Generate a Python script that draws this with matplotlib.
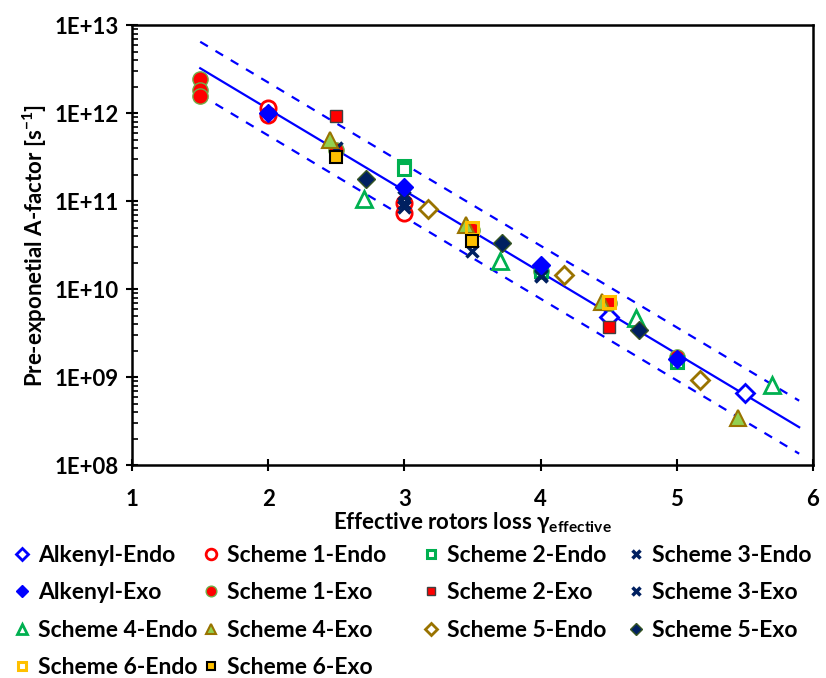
import matplotlib.pyplot as plt
import numpy as np
from matplotlib.ticker import FixedLocator, FuncFormatter, LogLocator, NullFormatter

plt.rcParams['font.family'] = ['Lato', 'DejaVu Sans']
plt.rcParams['font.weight'] = 'bold'
plt.rcParams['mathtext.fontset'] = 'custom'
plt.rcParams['mathtext.rm'] = 'Lato:bold'
plt.rcParams['mathtext.it'] = 'Lato:bold'
plt.rcParams['mathtext.bf'] = 'Lato:bold'

# data (x = effective rotors loss, y = A-factor in 1/s)
alk_endo_x = [4.5, 5.5]
alk_endo_y = [4.8e9, 6.6e8]
alk_exo_x = [2, 3, 4, 5]
alk_exo_y = [1.0e12, 1.45e11, 1.87e10, 1.6e9]
s1_endo_x = [2, 2, 3, 3]
s1_endo_y = [1.14e12, 9.5e11, 9.5e10, 7.3e10]
s1_exo_x = [1.5, 1.5, 1.5, 2.5, 3.5, 4, 4.5, 5]
s1_exo_y = [2.45e12, 1.85e12, 1.55e12, 3.8e11, 4.7e10, 1.6e10, 7.0e9, 1.7e9]
s2_endo_x = [3, 3, 4, 5]
s2_endo_y = [2.5e11, 2.3e11, 1.6e10, 1.5e9]
s2_exo_x = [2.5, 4.5]
s2_exo_y = [9.2e11, 3.7e9]
s3_endo_x = [3, 3, 4]
s3_endo_y = [1.1e11, 8.5e10, 1.45e10]
s3_exo_x = [2.5, 3, 3, 3.5, 4]
s3_exo_y = [4.0e11, 1.2e11, 9.5e10, 2.7e10, 1.4e10]
s4_endo_x = [2.7, 3.7, 4.7, 5.7]
s4_endo_y = [1.05e11, 2.1e10, 4.7e9, 8.1e8]
s4_exo_x = [2.45, 3.45, 4.45, 5.45]
s4_exo_y = [5.0e11, 5.4e10, 7.1e9, 3.4e8]
s5_endo_x = [3.17, 4.17, 5.17]
s5_endo_y = [8.1e10, 1.44e10, 9.3e8]
s5_exo_x = [2.72, 3.72, 4.72]
s5_exo_y = [1.78e11, 3.3e10, 3.4e9]
s6_endo_x = [3.5, 4.5]
s6_endo_y = [4.9e10, 7.1e9]
s6_exo_x = [2.5, 3.5]
s6_exo_y = [3.2e11, 3.5e10]

# log10(A) = fit_a + fit_b * x, band = factor 2
fit_a = 13.90
fit_b = -0.927
band = np.log10(2)
fit_range = [1.5, 5.9]

fig = plt.figure(figsize=(8.26, 6.78), dpi=100)
ax = fig.add_axes([0.16, 0.314, 0.824, 0.649])

xf = np.linspace(fit_range[0], fit_range[1], 50)
yf = 10 ** (fit_a + fit_b * xf)
ax.plot(xf, yf, color='#0000FF', lw=1.6, zorder=1)
ax.plot(xf, yf * 10 ** band, color='#0000FF', lw=1.6, ls=(0, (4, 4)), zorder=1)
ax.plot(xf, yf / 10 ** band, color='#0000FF', lw=1.6, ls=(0, (4, 4)), zorder=1)

h = {}
h['Alkenyl-Endo'] = ax.plot(alk_endo_x, alk_endo_y, 'D', ms=9, mfc='white', mec='#0000FF', mew=2, ls='none')[0]
h['Alkenyl-Exo'] = ax.plot(alk_exo_x, alk_exo_y, 'D', ms=9, mfc='#0000FF', mec='#0000FF', mew=1, ls='none', zorder=5)[0]
h['Scheme 1-Endo'] = ax.plot(s1_endo_x, s1_endo_y, 'o', ms=11, mfc='white', mec='#FF0000', mew=2, ls='none')[0]
h['Scheme 1-Exo'] = ax.plot(s1_exo_x, s1_exo_y, 'o', ms=11, mfc='#FF0000', mec='#70AD47', mew=1, ls='none')[0]
h['Scheme 2-Endo'] = ax.plot(s2_endo_x, s2_endo_y, 's', ms=9, mfc='white', mec='#00B050', mew=2.2, ls='none')[0]
h['Scheme 2-Exo'] = ax.plot(s2_exo_x, s2_exo_y, 's', ms=9, mfc='#FF0000', mec='#404040', mew=1, ls='none')[0]
h['Scheme 3-Endo'] = ax.plot(s3_endo_x, s3_endo_y, 'x', ms=9, mec='#002060', mew=2.5, ls='none')[0]
h['Scheme 3-Exo'] = ax.plot(s3_exo_x, s3_exo_y, 'x', ms=9, mec='#002060', mew=2.5, ls='none')[0]
h['Scheme 4-Endo'] = ax.plot(s4_endo_x, s4_endo_y, '^', ms=11, mfc='white', mec='#00B050', mew=2, ls='none')[0]
h['Scheme 4-Exo'] = ax.plot(s4_exo_x, s4_exo_y, '^', ms=11, mfc='#92D050', mec='#997300', mew=1.5, ls='none')[0]
h['Scheme 5-Endo'] = ax.plot(s5_endo_x, s5_endo_y, 'D', ms=9, mfc='white', mec='#997300', mew=2, ls='none')[0]
h['Scheme 5-Exo'] = ax.plot(s5_exo_x, s5_exo_y, 'D', ms=9, mfc='#002060', mec='#375623', mew=1, ls='none')[0]
h['Scheme 6-Endo'] = ax.plot(s6_endo_x, s6_endo_y, 's', ms=9, mfc='none', mec='#FFC000', mew=2.2, ls='none')[0]
h['Scheme 6-Exo'] = ax.plot(s6_exo_x, s6_exo_y, 's', ms=9, mfc='#FFC000', mec='black', mew=1.5, ls='none')[0]

ax.set_yscale('log')
ax.set_xlim(1, 6)
ax.set_ylim(1e8, 1e13)
ax.xaxis.set_major_locator(FixedLocator([1, 2, 3, 4, 5, 6]))
ax.yaxis.set_major_locator(LogLocator(base=10, numticks=10))
ax.yaxis.set_minor_locator(LogLocator(base=10, subs=np.arange(2, 10), numticks=10))
ax.yaxis.set_minor_formatter(NullFormatter())
ax.yaxis.set_major_formatter(FuncFormatter(lambda v, p: '1E+%02d' % round(np.log10(v))))
ax.tick_params(which='major', direction='inout', length=9, width=1.5, labelsize=16, pad=5)
ax.tick_params(axis='x', which='major', pad=13)
ax.tick_params(axis='y', which='minor', direction='in', length=4.5, width=1.2)
for s in ax.spines.values():
    s.set_linewidth(1.8)

ax.set_ylabel('Pre-exponetial A-factor [s$^{-1}$]', fontsize=16, fontweight='bold', labelpad=4)
ax.set_xlabel(r'Effective rotors loss γ$_{\mathrm{effective}}$', fontsize=16, fontweight='bold', labelpad=0)

# legend laid out in 4 evenly spaced columns like the original
columns = [['Alkenyl-Endo', 'Alkenyl-Exo', 'Scheme 4-Endo', 'Scheme 6-Endo'],
           ['Scheme 1-Endo', 'Scheme 1-Exo', 'Scheme 4-Exo', 'Scheme 6-Exo'],
           ['Scheme 2-Endo', 'Scheme 2-Exo', 'Scheme 5-Endo'],
           ['Scheme 3-Endo', 'Scheme 3-Exo', 'Scheme 5-Exo']]
col_x = [13, 202, 422, 627]
for names, x0 in zip(columns, col_x):
    fig.legend([h[k] for k in names], names, loc='upper left',
               bbox_to_anchor=(x0 / 826, 1 - 545 / 678), frameon=False, fontsize=16.5,
               markerscale=0.7, handlelength=0.8, handletextpad=0.3, labelspacing=0.71,
               borderaxespad=0, borderpad=0)

fig.savefig('out.png', dpi=100)
